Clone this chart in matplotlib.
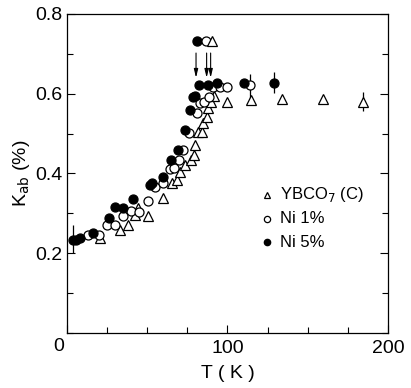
"""Kab vs T for YBCO7 and Ni-doped samples."""
import matplotlib
matplotlib.use("Agg")
import matplotlib.pyplot as plt
from matplotlib.ticker import MultipleLocator

plt.rcParams["font.family"] = ["Liberation Sans", "DejaVu Sans"]

# YBCO7 (C) - open triangles
tri_T = [20.6, 33.0, 38.2, 42.4, 44.2, 50.3, 60.0, 65.6, 68.3, 70.4, 73.7, 77.0,
         79.3, 79.8, 81.4, 84.3, 84.9, 87.0, 88.0, 89.5, 91.8, 99.5, 114.4,
         134.2, 159.2, 184.6]
tri_K = [0.238, 0.259, 0.270, 0.296, 0.313, 0.292, 0.338, 0.377, 0.384, 0.403,
         0.420, 0.433, 0.447, 0.472, 0.503, 0.503, 0.526, 0.541, 0.564, 0.580,
         0.593, 0.580, 0.585, 0.586, 0.586, 0.578]

# Ni 1% - open circles
ni1_T = [13.3, 19.9, 24.7, 29.9, 34.7, 39.9, 45.1, 50.3, 55.1, 60.0, 64.1, 66.7,
         69.8, 72.5, 76.2, 80.8, 82.9, 85.4, 88.3, 90.8, 95.3, 99.7, 114.0]
ni1_K = [0.246, 0.246, 0.271, 0.271, 0.292, 0.305, 0.303, 0.332, 0.366, 0.376,
         0.411, 0.414, 0.433, 0.459, 0.501, 0.551, 0.576, 0.580, 0.591, 0.616,
         0.618, 0.616, 0.622]

# Ni 5% - filled circles
ni5_T = [3.9, 5.6, 8.1, 16.0, 26.4, 29.9, 35.1, 40.9, 51.7, 53.2, 60.0, 64.8,
         69.0, 73.7, 76.6, 78.7, 79.8, 82.5, 87.6, 93.5, 110.3, 129.0]
ni5_K = [0.232, 0.234, 0.238, 0.251, 0.288, 0.316, 0.313, 0.337, 0.372, 0.377,
         0.391, 0.434, 0.459, 0.509, 0.559, 0.591, 0.595, 0.622, 0.622, 0.628,
         0.628, 0.628]

# error bars (T, centre, half-width)
err_T = [3.9, 114.0, 129.0, 184.6]
err_K = [0.235, 0.620, 0.628, 0.581]
err_dK = [0.035, 0.030, 0.027, 0.024]

# Tc markers and arrows
tc_T = [80.8, 86.6, 90.1]
tc_K = 0.731
arrow_top, arrow_bot = 0.702, 0.640
arrow_T = [80.4, 87.0, 89.5]

fig = plt.figure(figsize=(4.11, 3.88), dpi=100)
ax = fig.add_axes([0.163, 0.142, 0.781, 0.822])

ax.errorbar(err_T, err_K, yerr=err_dK, fmt="none", ecolor="black",
            elinewidth=0.9, capsize=0)
ms = 6.5
ax.plot(tri_T, tri_K, "^", ms=ms, mfc="white", mec="black", mew=0.9)
ax.plot(ni1_T, ni1_K, "o", ms=ms, mfc="white", mec="black", mew=0.9)
ax.plot(ni5_T, ni5_K, "o", ms=ms, mfc="black", mec="black", mew=0.9)

ax.plot(tc_T[0], tc_K, "o", ms=ms, mfc="black", mec="black")
ax.plot(tc_T[1], tc_K, "o", ms=ms, mfc="white", mec="black", mew=0.9)
ax.plot(tc_T[2], tc_K, "^", ms=ms, mfc="white", mec="black", mew=0.9)
for t in arrow_T:
    ax.annotate("", xy=(t, arrow_bot), xytext=(t, arrow_top),
                arrowprops=dict(arrowstyle="-|>,head_length=0.5,head_width=0.12",
                                color="black", lw=0.8, shrinkA=0, shrinkB=0))

# legend drawn as text
leg_T, leg_txt_T = 124.6, 133.0
leg_rows = [0.346, 0.286, 0.228]
ax.plot(leg_T, leg_rows[0], "^", ms=4.5, mfc="white", mec="black", mew=0.9)
ax.plot(leg_T, leg_rows[1], "o", ms=4.5, mfc="white", mec="black", mew=0.9)
ax.plot(leg_T, leg_rows[2], "o", ms=4.5, mfc="black", mec="black")
ax.text(leg_txt_T, leg_rows[0], "YBCO$_7$ (C)", fontsize=12, va="center")
ax.text(leg_txt_T, leg_rows[1], "Ni 1%", fontsize=12, va="center")
ax.text(leg_txt_T, leg_rows[2], "Ni 5%", fontsize=12, va="center")

ax.set_xlim(0, 200)
ax.set_ylim(0, 0.8)
ax.set_xticks([0, 100, 200])
ax.set_xticklabels(["", "100", "200"])
ax.set_xticks([25, 50, 75, 125, 150, 175], minor=True)
ax.set_yticks([0.2, 0.4, 0.6, 0.8])
ax.set_yticklabels(["0.2", "0.4", "0.6", "0.8"])
ax.yaxis.set_minor_locator(MultipleLocator(0.1))
ax.tick_params(direction="in", which="both", labelsize=14, right=True,
               width=0.8)
ax.tick_params(which="major", length=6)
ax.tick_params(which="minor", length=4)
ax.tick_params(axis="x", pad=5)
ax.text(-5, -0.035, "0", fontsize=14, ha="center", va="center")
for s in ax.spines.values():
    s.set_linewidth(0.9)

ax.set_xlabel("T ( K )", fontsize=14, labelpad=6)
ax.set_ylabel("K$_{\\mathrm{ab}}$ (%)", fontsize=14, labelpad=2)

fig.savefig("out.png", dpi=100)
